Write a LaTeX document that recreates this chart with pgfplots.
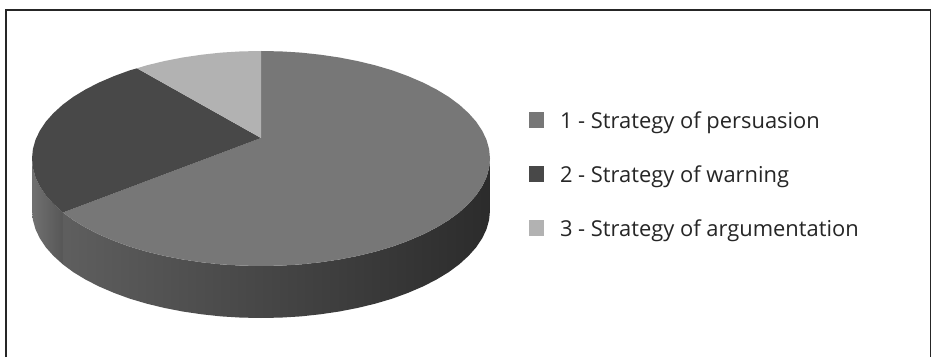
\documentclass[border=0pt]{standalone}
\usepackage{fontspec}
\setmainfont{Open Sans}
\usepackage{pgfplots}
\pgfplotsset{compat=1.18}
\definecolor{persuasion}{HTML}{777777}
\definecolor{warning}{HTML}{484848}
\definecolor{argumentation}{HTML}{B2B2B2}
\begin{document}
\begin{tikzpicture}
\begin{axis}[
  scale only axis, width=933pt, height=357pt,
  xmin=0, xmax=933, ymin=0, ymax=357, y dir=reverse,
  hide axis, clip=false,
  legend cell align=left,
  legend style={at={(axis cs:529,112.5)}, anchor=north west, draw=none, fill=none,
    font=\fontsize{21.9}{24}\selectfont, text=black!85,
    row sep=33pt, inner sep=0pt, outer sep=0pt,
    nodes={inner sep=0pt, text height=16pt, text depth=5pt}},
  legend image code/.code={%
    \fill[#1, draw=none] (0pt,-4.5pt) rectangle (15pt,10.5pt);
    \path (31pt,0pt);},
]
% page background
\addplot[forget plot, draw=none, fill=white] coordinates
  {(0,0) (933,0) (933,357) (0,357)} --cycle;
% frame, open along the bottom edge
\addplot[forget plot, draw=black!85, line width=1.3pt] coordinates
  {(6,357) (6,10) (930.5,10) (930.5,357)};

% rim under the warning slice
\addplot[forget plot, draw=none, left color=black!56, right color=black!66] coordinates {
  (32,158.5) (32.9,167.9) (35.5,177.2) (39.8,186.3) (45.8,195.3) (53.5,203.9) (63,212.5)
  (63,264.5) (53.5,255.9) (45.8,247.3) (39.8,238.3) (35.5,229.2) (32.9,219.9) (32,210.5)} --cycle;

% rim under the persuasion slice
\addplot[forget plot, draw=none, left color=black!63, middle color=black!77, right color=black!83] coordinates {
  (490,158.5) (489.1,167.9) (486.5,177.2) (482.2,186.3) (476.2,195.3) (468.5,203.9) (459.3,212.3)
  (448.6,220.2) (436.4,227.6) (422.9,234.5) (408.2,240.8) (392.4,246.6) (375.5,251.6) (357.8,255.9)
  (339.3,259.5) (320.3,262.3) (300.8,264.4) (281.0,265.6) (261,266) (241.0,265.6) (221.2,264.4)
  (201.7,262.3) (182.7,259.5) (164.2,255.9) (146.5,251.6) (129.6,246.6) (113.8,240.8) (99.1,234.5)
  (85.6,227.6) (73.4,220.2) (63,212.5)
  (63,264.5) (73.4,272.2) (85.6,279.6) (99.1,286.5) (113.8,292.8) (129.6,298.6) (146.5,303.6)
  (164.2,307.9) (182.7,311.5) (201.7,314.3) (221.2,316.4) (241.0,317.6) (261,318) (281.0,317.6)
  (300.8,316.4) (320.3,314.3) (339.3,311.5) (357.8,307.9) (375.5,303.6) (392.4,298.6) (408.2,292.8)
  (422.9,286.5) (436.4,279.6) (448.6,272.2) (459.3,264.3) (468.5,255.9) (476.2,247.3) (482.2,238.3)
  (486.5,229.2) (489.1,219.9) (490,210.5)} --cycle;

% top face: 1 - persuasion
\addplot[draw=none, fill=persuasion] coordinates {
  (261,138) (261,51) (281.0,51.4) (300.8,52.6) (320.3,54.7) (339.3,57.5) (357.8,61.1) (375.5,65.4)
  (392.4,70.4) (408.2,76.2) (422.9,82.5) (436.4,89.4) (448.6,96.8) (459.3,104.7) (468.5,113.1)
  (476.2,121.7) (482.2,130.7) (486.5,139.8) (489.1,149.1) (490,158.5) (489.1,167.9) (486.5,177.2)
  (482.2,186.3) (476.2,195.3) (468.5,203.9) (459.3,212.3) (448.6,220.2) (436.4,227.6) (422.9,234.5)
  (408.2,240.8) (392.4,246.6) (375.5,251.6) (357.8,255.9) (339.3,259.5) (320.3,262.3) (300.8,264.4)
  (281.0,265.6) (261,266) (241.0,265.6) (221.2,264.4) (201.7,262.3) (182.7,259.5) (164.2,255.9)
  (146.5,251.6) (129.6,246.6) (113.8,240.8) (99.1,234.5) (85.6,227.6) (73.4,220.2) (63,212.5)} --cycle;

% top face: 2 - warning
\addplot[draw=none, fill=warning] coordinates {
  (261,138) (63,212.5) (53.5,203.9) (45.8,195.3) (39.8,186.3) (35.5,177.2) (32.9,167.9) (32,158.5)
  (32.9,149.1) (35.5,139.8) (39.8,130.7) (45.8,121.7) (53.5,113.1) (62.7,104.7) (73.4,96.8)
  (85.6,89.4) (99.1,82.5) (113.8,76.2) (129.6,70.4) (137,68.3)} --cycle;

% top face: 3 - argumentation
\addplot[draw=none, fill=argumentation] coordinates {
  (261,138) (137,68.3) (146.5,65.4) (164.2,61.1) (182.7,57.5) (201.7,54.7) (221.2,52.6) (241,51.4) (261,51)} --cycle;

\legend{1 - Strategy of persuasion, 2 - Strategy of warning, 3 - Strategy of argumentation}
\end{axis}
\end{tikzpicture}
\end{document}
